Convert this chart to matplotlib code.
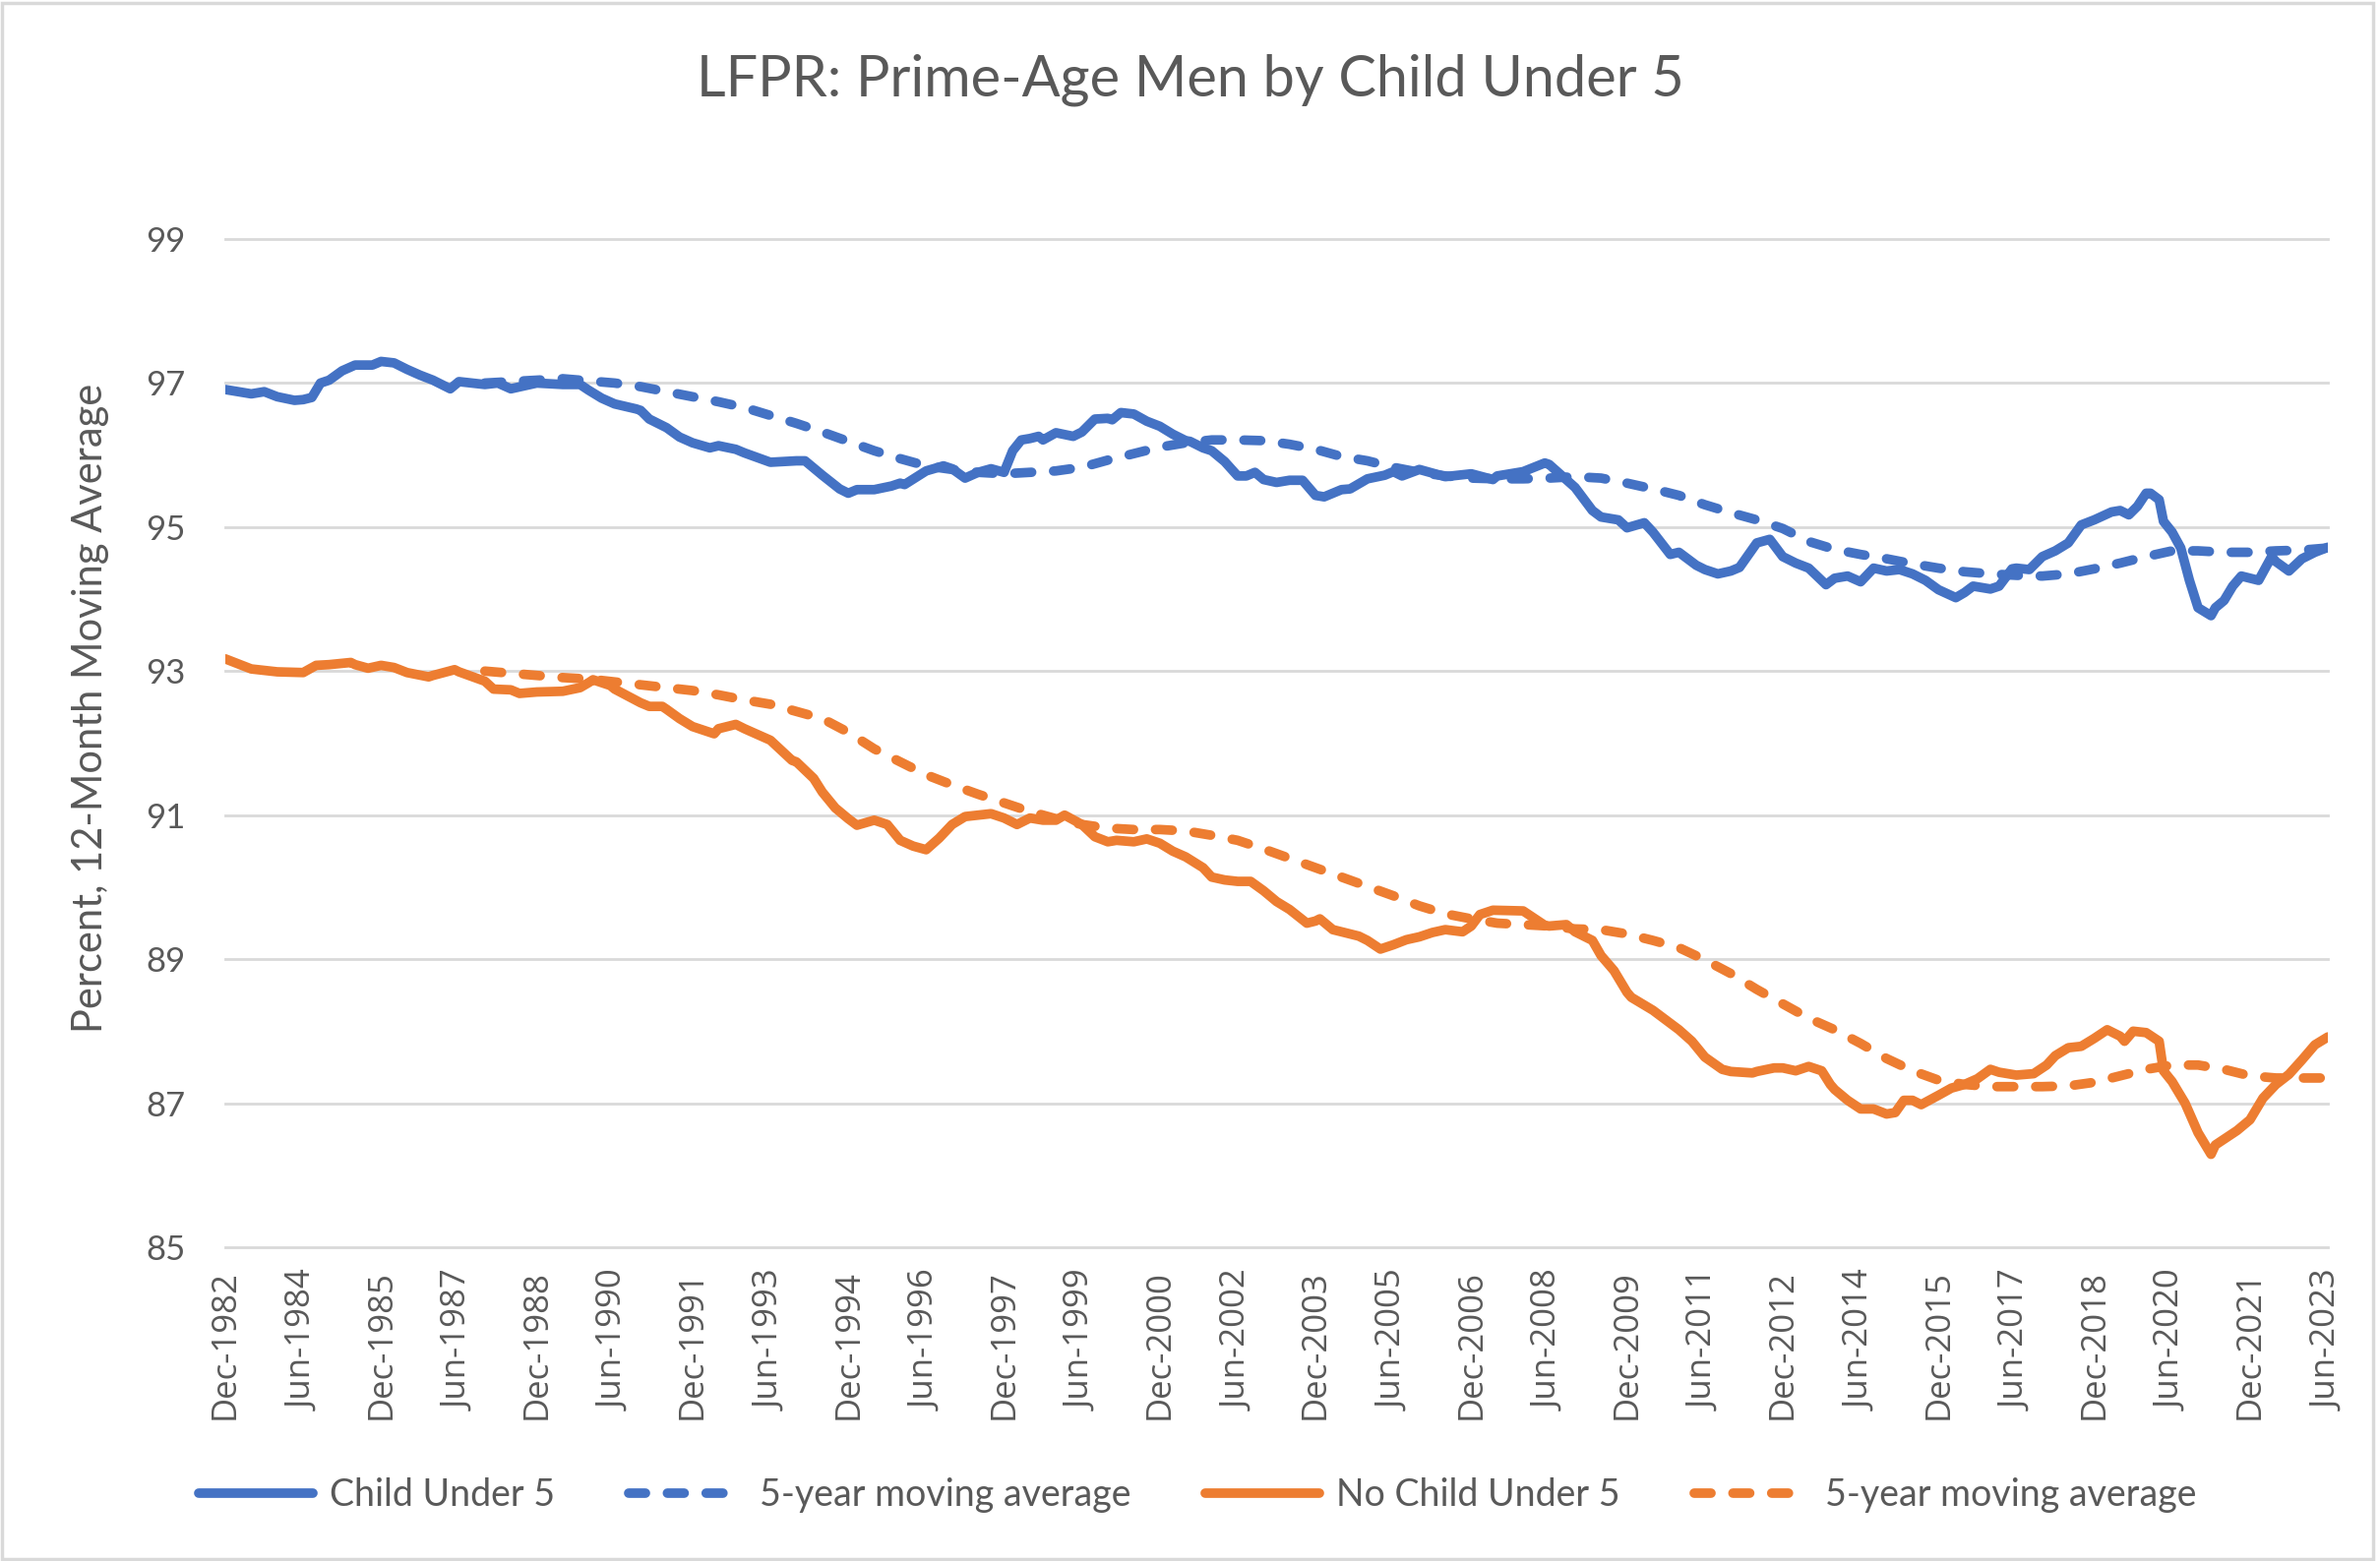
import matplotlib
matplotlib.use("Agg")
import matplotlib.pyplot as plt
from matplotlib.patches import Rectangle

plt.rcParams["font.family"] = ["Lato", "DejaVu Sans"]

# ── data (12-month moving averages) ───────────────────────────────────────────
child_dates = [
    "1982-12", "1983-06", "1983-09", "1983-12", "1984-04", "1984-06", "1984-08", "1984-10",
    "1984-12", "1985-03", "1985-06", "1985-10", "1985-12", "1986-03", "1986-06", "1986-09",
    "1986-12", "1987-04", "1987-06", "1987-12", "1988-03", "1988-06", "1988-12", "1989-06",
    "1989-10", "1989-12", "1990-03", "1990-06", "1990-11", "1990-12", "1991-02", "1991-06",
    "1991-09", "1991-12", "1992-04", "1992-06", "1992-10", "1992-12", "1993-06", "1993-12",
    "1994-02", "1994-06", "1994-10", "1994-12", "1995-02", "1995-06", "1995-10", "1995-12",
    "1996-01", "1996-06", "1996-10", "1996-12", "1997-03", "1997-06", "1997-09", "1997-12",
    "1998-02", "1998-04", "1998-06", "1998-08", "1998-09", "1998-12", "1999-04", "1999-06",
    "1999-09", "1999-12", "2000-01", "2000-03", "2000-06", "2000-09", "2000-12", "2001-03",
    "2001-06", "2001-07", "2001-10", "2001-12", "2002-03", "2002-06", "2002-08", "2002-10",
    "2002-12", "2003-03", "2003-06", "2003-09", "2003-12", "2004-02", "2004-06", "2004-08",
    "2004-12", "2005-04", "2005-06", "2005-08", "2005-12", "2006-06", "2006-12", "2007-05",
    "2007-06", "2007-12", "2008-05", "2008-06", "2008-12", "2009-04", "2009-06", "2009-10",
    "2009-12", "2010-04", "2010-06", "2010-10", "2010-12", "2011-04", "2011-06", "2011-09",
    "2011-12", "2012-02", "2012-06", "2012-09", "2012-12", "2013-03", "2013-06", "2013-10",
    "2013-12", "2014-03", "2014-06", "2014-09", "2014-12", "2015-03", "2015-06", "2015-09",
    "2015-12", "2016-04", "2016-06", "2016-08", "2016-12", "2017-02", "2017-05", "2017-06",
    "2017-09", "2017-12", "2018-03", "2018-06", "2018-09", "2018-12", "2019-04", "2019-06",
    "2019-08", "2019-10", "2019-12", "2020-01", "2020-03", "2020-04", "2020-06", "2020-08",
    "2020-10", "2020-12", "2021-03", "2021-04", "2021-06", "2021-08", "2021-10", "2021-12",
    "2022-02", "2022-05", "2022-06", "2022-09", "2022-12", "2023-03", "2023-06",
]
child_vals = [
    96.91, 96.85, 96.88, 96.81, 96.76, 96.77, 96.80, 97.00,
    97.04, 97.17, 97.25, 97.25, 97.30, 97.28, 97.19, 97.11,
    97.04, 96.92, 97.02, 96.98, 97.00, 96.92, 97.00, 96.98,
    96.98, 96.90, 96.79, 96.71, 96.64, 96.62, 96.50, 96.38,
    96.25, 96.17, 96.10, 96.13, 96.08, 96.03, 95.90, 95.92,
    95.92, 95.72, 95.53, 95.47, 95.52, 95.52, 95.57, 95.61,
    95.59, 95.78, 95.85, 95.81, 95.68, 95.76, 95.81, 95.76,
    96.06, 96.21, 96.23, 96.26, 96.21, 96.31, 96.26, 96.32,
    96.50, 96.51, 96.49, 96.59, 96.57, 96.47, 96.40, 96.29,
    96.20, 96.19, 96.10, 96.06, 95.91, 95.71, 95.71, 95.76,
    95.66, 95.62, 95.65, 95.65, 95.44, 95.42, 95.52, 95.53,
    95.67, 95.72, 95.77, 95.71, 95.80, 95.70, 95.74, 95.66,
    95.71, 95.77, 95.89, 95.87, 95.55, 95.23, 95.14, 95.10,
    94.99, 95.06, 94.93, 94.62, 94.65, 94.47, 94.41, 94.35,
    94.39, 94.44, 94.78, 94.83, 94.59, 94.50, 94.43, 94.20,
    94.29, 94.32, 94.24, 94.43, 94.39, 94.41, 94.35, 94.26,
    94.13, 94.02, 94.09, 94.18, 94.14, 94.18, 94.42, 94.43,
    94.41, 94.59, 94.67, 94.78, 95.03, 95.10, 95.21, 95.23,
    95.17, 95.29, 95.47, 95.47, 95.38, 95.08, 94.93, 94.71,
    94.26, 93.88, 93.77, 93.88, 93.98, 94.18, 94.32, 94.29,
    94.26, 94.59, 94.52, 94.39, 94.56, 94.65, 94.72,
]

ma_dates = [
    "1987-12", "1988-06", "1988-12", "1989-06", "1989-12", "1990-06", "1990-12", "1991-06",
    "1991-12", "1992-06", "1992-12", "1993-06", "1993-12", "1994-06", "1994-12", "1995-06",
    "1995-12", "1996-06", "1996-12", "1997-06", "1997-12", "1998-06", "1998-12", "1999-06",
    "1999-12", "2000-06", "2000-12", "2001-06", "2001-12", "2002-06", "2002-12", "2003-06",
    "2003-12", "2004-06", "2004-12", "2005-06", "2005-12", "2006-06", "2006-12", "2007-06",
    "2007-12", "2008-06", "2008-12", "2009-06", "2009-12", "2010-06", "2010-12", "2011-06",
    "2011-12", "2012-06", "2012-12", "2013-06", "2013-12", "2014-06", "2014-12", "2015-06",
    "2015-12", "2016-06", "2016-12", "2017-06", "2017-12", "2018-06", "2018-12", "2019-06",
    "2019-12", "2020-06", "2020-12", "2021-06", "2021-12", "2022-06", "2022-12", "2023-06",
]
child_ma_vals = [
    97.00, 97.02, 97.04, 97.06, 97.03, 97.00, 96.95, 96.88,
    96.81, 96.74, 96.66, 96.55, 96.44, 96.32, 96.19, 96.06,
    95.95, 95.85, 95.80, 95.76, 95.74, 95.76, 95.78, 95.83,
    95.93, 96.02, 96.11, 96.17, 96.21, 96.21, 96.20, 96.15,
    96.08, 95.98, 95.92, 95.83, 95.76, 95.71, 95.68, 95.67,
    95.67, 95.68, 95.70, 95.68, 95.61, 95.53, 95.44, 95.31,
    95.20, 95.10, 94.98, 94.80, 94.69, 94.62, 94.56, 94.49,
    94.43, 94.38, 94.35, 94.33, 94.32, 94.35, 94.42, 94.50,
    94.59, 94.67, 94.67, 94.65, 94.65, 94.67, 94.68, 94.71,
]

nochild_dates = [
    "1982-12", "1983-06", "1983-12", "1984-06", "1984-09", "1984-12", "1985-05", "1985-06",
    "1985-09", "1985-12", "1986-03", "1986-06", "1986-11", "1986-12", "1987-05", "1987-06",
    "1987-12", "1988-02", "1988-06", "1988-08", "1988-12", "1989-06", "1989-10", "1989-12",
    "1990-01", "1990-05", "1990-06", "1990-12", "1991-02", "1991-05", "1991-06", "1991-09",
    "1991-12", "1992-05", "1992-06", "1992-10", "1992-12", "1993-06", "1993-11", "1993-12",
    "1994-04", "1994-06", "1994-09", "1994-12", "1995-02", "1995-06", "1995-09", "1995-12",
    "1996-03", "1996-06", "1996-09", "1996-12", "1997-03", "1997-06", "1997-09", "1997-12",
    "1998-03", "1998-06", "1998-09", "1998-12", "1999-02", "1999-06", "1999-09", "1999-12",
    "2000-02", "2000-06", "2000-09", "2000-12", "2001-03", "2001-06", "2001-10", "2001-12",
    "2002-03", "2002-06", "2002-09", "2002-12", "2003-03", "2003-06", "2003-10", "2003-12",
    "2004-01", "2004-04", "2004-06", "2004-10", "2004-12", "2005-03", "2005-06", "2005-09",
    "2005-12", "2006-03", "2006-06", "2006-10", "2006-12", "2007-02", "2007-05", "2007-12",
    "2008-05", "2008-06", "2008-10", "2008-12", "2009-04", "2009-06", "2009-09", "2009-12",
    "2010-01", "2010-06", "2010-12", "2011-03", "2011-06", "2011-10", "2011-12", "2012-05",
    "2012-06", "2012-10", "2012-12", "2013-03", "2013-06", "2013-09", "2013-11", "2013-12",
    "2014-03", "2014-06", "2014-09", "2014-12", "2015-02", "2015-04", "2015-06", "2015-08",
    "2015-12", "2016-03", "2016-06", "2016-09", "2016-12", "2017-02", "2017-06", "2017-10",
    "2018-01", "2018-03", "2018-06", "2018-09", "2018-12", "2019-03", "2019-06", "2019-07",
    "2019-09", "2019-12", "2020-03", "2020-04", "2020-06", "2020-09", "2020-12", "2021-03",
    "2021-04", "2021-06", "2021-09", "2021-12", "2022-03", "2022-06", "2022-09", "2022-12",
    "2023-03", "2023-06",
]
nochild_vals = [
    93.17, 93.03, 92.99, 92.98, 93.08, 93.09, 93.12, 93.09,
    93.04, 93.08, 93.05, 92.98, 92.92, 92.94, 93.02, 92.99,
    92.86, 92.75, 92.74, 92.69, 92.71, 92.72, 92.77, 92.84,
    92.88, 92.80, 92.75, 92.56, 92.51, 92.51, 92.47, 92.34,
    92.23, 92.13, 92.20, 92.26, 92.20, 92.04, 91.76, 91.74,
    91.51, 91.32, 91.10, 90.95, 90.86, 90.93, 90.87, 90.65,
    90.57, 90.52, 90.68, 90.87, 90.98, 91.00, 91.02, 90.96,
    90.87, 90.96, 90.93, 90.93, 91.00, 90.87, 90.70, 90.63,
    90.65, 90.63, 90.67, 90.61, 90.50, 90.42, 90.27, 90.14,
    90.10, 90.08, 90.08, 89.95, 89.80, 89.69, 89.50, 89.53,
    89.56, 89.41, 89.38, 89.32, 89.26, 89.14, 89.20, 89.27,
    89.31, 89.37, 89.41, 89.38, 89.46, 89.62, 89.68, 89.67,
    89.47, 89.46, 89.48, 89.38, 89.26, 89.05, 88.84, 88.54,
    88.47, 88.29, 88.02, 87.86, 87.64, 87.47, 87.44, 87.42,
    87.44, 87.49, 87.49, 87.45, 87.51, 87.45, 87.26, 87.19,
    87.04, 86.92, 86.92, 86.85, 86.87, 87.04, 87.04, 86.98,
    87.11, 87.21, 87.26, 87.34, 87.47, 87.43, 87.39, 87.41,
    87.53, 87.66, 87.77, 87.79, 87.90, 88.02, 87.93, 87.86,
    88.00, 87.98, 87.86, 87.45, 87.30, 87.00, 86.59, 86.29,
    86.42, 86.50, 86.62, 86.77, 87.07, 87.26, 87.40, 87.60,
    87.81, 87.92,
]

nochild_ma_vals = [
    93.00, 92.97, 92.94, 92.91, 92.89, 92.85, 92.81, 92.77,
    92.73, 92.67, 92.60, 92.54, 92.44, 92.34, 92.15, 91.92,
    91.74, 91.56, 91.42, 91.29, 91.17, 91.05, 90.95, 90.87,
    90.82, 90.80, 90.80, 90.78, 90.72, 90.65, 90.53, 90.40,
    90.27, 90.14, 90.01, 89.88, 89.74, 89.63, 89.56, 89.50,
    89.48, 89.46, 89.42, 89.41, 89.35, 89.26, 89.16, 88.99,
    88.80, 88.58, 88.38, 88.18, 88.02, 87.83, 87.62, 87.45,
    87.32, 87.26, 87.23, 87.23, 87.23, 87.24, 87.29, 87.38,
    87.47, 87.53, 87.53, 87.47, 87.38, 87.35, 87.35, 87.35,
]

tick_labels = [
    "Dec-1982", "Jun-1984", "Dec-1985", "Jun-1987", "Dec-1988", "Jun-1990", "Dec-1991",
    "Jun-1993", "Dec-1994", "Jun-1996", "Dec-1997", "Jun-1999", "Dec-2000", "Jun-2002",
    "Dec-2003", "Jun-2005", "Dec-2006", "Jun-2008", "Dec-2009", "Jun-2011", "Dec-2012",
    "Jun-2014", "Dec-2015", "Jun-2017", "Dec-2018", "Jun-2020", "Dec-2021", "Jun-2023",
]
y_ticks = [85, 87, 89, 91, 93, 95, 97, 99]

MONTHS = {"Jan": 1, "Feb": 2, "Mar": 3, "Apr": 4, "May": 5, "Jun": 6,
          "Jul": 7, "Aug": 8, "Sep": 9, "Oct": 10, "Nov": 11, "Dec": 12}


def month_index(s):
    # months since Dec-1982 (category position on Excel's axis)
    y, m = s.split("-")
    return (int(y) - 1982) * 12 + int(m) - 12


def label_index(lbl):
    mon, yr = lbl.split("-")
    return (int(yr) - 1982) * 12 + MONTHS[mon] - 12


BLUE = "#4472C4"
ORANGE = "#ED7D31"
GRID = "#D9D9D9"
TEXT = "#595959"
LW = 7.0
DASH = (1.75, 2.3)

# ── figure ────────────────────────────────────────────────────────────────────
fig = plt.figure(figsize=(24.19, 15.87), dpi=100)
ax = fig.add_axes([229 / 2419, 1 - 1268 / 1587, (2366 - 229) / 2419, (1268 - 243) / 1587])

for yv in y_ticks:
    ax.axhline(yv, color=GRID, lw=2.0, zorder=0, clip_on=False)

common = dict(lw=LW, solid_capstyle="round", dash_capstyle="round",
              solid_joinstyle="round", dash_joinstyle="round")
ax.plot([month_index(d) for d in child_dates], child_vals, color=BLUE,
        label="Child Under 5", **common)
ax.plot([month_index(d) for d in ma_dates], child_ma_vals, color=BLUE, ls=(0, DASH),
        label="5-year moving average", **common)
ax.plot([month_index(d) for d in nochild_dates], nochild_vals, color=ORANGE,
        label="No Child Under 5", **common)
ax.plot([month_index(d) for d in ma_dates], nochild_ma_vals, color=ORANGE, ls=(0, DASH),
        label="5-year moving average", **common)

ax.set_xlim(0, 486)
ax.set_ylim(85, 99)
ax.set_yticks(y_ticks)
ax.set_yticklabels([str(v) for v in y_ticks], fontsize=25, color=TEXT)
ax.set_xticks([label_index(l) for l in tick_labels])
ax.set_xticklabels(tick_labels, rotation=90, fontsize=25, color=TEXT,
                   family=["Open Sans", "DejaVu Sans"])
ax.tick_params(axis="y", length=0, pad=29)
ax.tick_params(axis="x", length=0, pad=17)
for s in ax.spines.values():
    s.set_visible(False)

fig.text(1210 / 2419, 1 - 97 / 1587, "LFPR: Prime-Age Men by Child Under 5",
         ha="center", va="baseline", fontsize=41.5, color=TEXT)
fig.text(92 / 2419, 1 - 720 / 1587, "Percent, 12-Month Moving Average",
         rotation=90, ha="center", va="center", fontsize=30, color=TEXT)

fig.legend(loc="center", bbox_to_anchor=(1217 / 2419, 1 - 1520 / 1587), ncol=4,
           frameon=False, fontsize=27, handlelength=3.1, handletextpad=0.45,
           columnspacing=2.0, labelcolor=TEXT)

fig.patches.append(Rectangle((0.001, 0.001), 0.996, 0.997, transform=fig.transFigure,
                             fill=False, ec=GRID, lw=2.5))

fig.savefig("out.png", dpi=100)
